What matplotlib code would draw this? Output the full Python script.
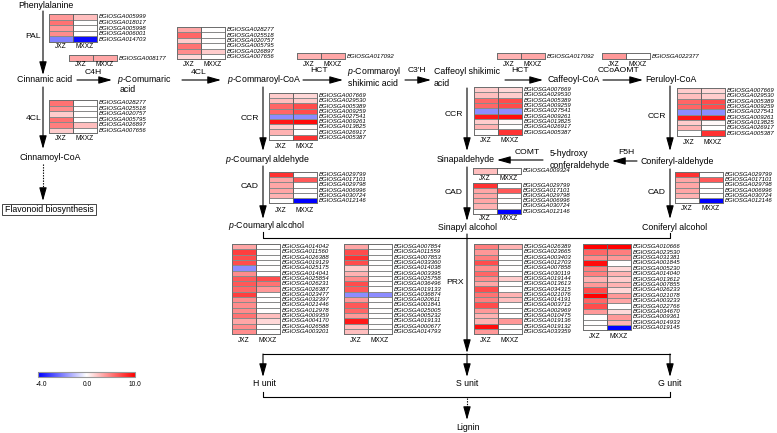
import matplotlib
matplotlib.use('Agg')
import matplotlib.pyplot as plt
import numpy as np
from matplotlib.colors import LinearSegmentedColormap, TwoSlopeNorm
from matplotlib.patches import Rectangle

plt.rcParams['font.family'] = ['Liberation Sans', 'DejaVu Sans']
plt.rcParams['mathtext.fontset'] = 'custom'
plt.rcParams['mathtext.it'] = 'Liberation Sans:italic'
plt.rcParams['mathtext.rm'] = 'Liberation Sans'

# expression values, each row is [JXZ, MXXZ]
pal_genes = ['BGIOSGA005999', 'BGIOSGA018017', 'BGIOSGA005998', 'BGIOSGA006001', 'BGIOSGA014703']
pal_vals = [[4, 2.5], [5.5, 0], [4, 0], [4.5, 0], [-2, -3.8]]

c4h_genes = ['BGIOSGA008177']
c4h_vals = [[3.5, 3.5]]

fourcl_genes = ['BGIOSGA028277', 'BGIOSGA025518', 'BGIOSGA020757', 'BGIOSGA005795', 'BGIOSGA026897', 'BGIOSGA007656']
fourcl_top_vals = [[3.5, 0], [6, 0], [2, 0], [5.5, 0], [4.5, 2], [1.5, 0]]
fourcl_left_vals = [[5.5, 0], [4.5, 0], [2, 0], [5.5, 0], [5, 2.5], [2, 0]]

hct_genes = ['BGIOSGA017092']
hct_vals = [[3, 3.5]]

ccoaomt_genes = ['BGIOSGA022377']
ccoaomt_vals = [[4, 0]]

ccr_genes = ['BGIOSGA007669', 'BGIOSGA029530', 'BGIOSGA005389', 'BGIOSGA009259', 'BGIOSGA027541',
             'BGIOSGA009261', 'BGIOSGA013825', 'BGIOSGA026917', 'BGIOSGA005387']
ccr_vals = [[2, 1.5], [2.5, 2], [6, 7], [6, 7], [-1.8, -1.8], [9, 9.5], [2, 0.3], [3, 0], [0, 8]]

cad_genes = ['BGIOSGA029799', 'BGIOSGA017101', 'BGIOSGA029798', 'BGIOSGA006996', 'BGIOSGA030724', 'BGIOSGA012146']
cad_vals = [[8, 0], [3.5, 6.5], [3.5, 0], [3.5, 0], [3, 0], [0, -4]]

comt_genes = ['BGIOSGA009324']
comt_vals = [[2.5, 0]]

prx1_genes = ['BGIOSGA014042', 'BGIOSGA011560', 'BGIOSGA026388', 'BGIOSGA019129', 'BGIOSGA025175',
              'BGIOSGA014041', 'BGIOSGA025854', 'BGIOSGA026231', 'BGIOSGA026387', 'BGIOSGA023477',
              'BGIOSGA032397', 'BGIOSGA021446', 'BGIOSGA012978', 'BGIOSGA009359', 'BGIOSGA004170',
              'BGIOSGA026588', 'BGIOSGA003201']
prx1_vals = [[3.5, 0], [7.5, 0], [7, 0], [7, 0], [-1.8, 0], [4.5, 0], [6.5, 7], [6.5, 5.5], [6, 4],
             [7.5, 0], [4.5, 0], [4.5, 0], [4.5, 0], [5.5, 2.5], [3.5, 1.5], [4.5, 0], [4.5, 0]]

prx2_genes = ['BGIOSGA007854', 'BGIOSGA011559', 'BGIOSGA007853', 'BGIOSGA033360', 'BGIOSGA014038',
              'BGIOSGA003395', 'BGIOSGA025758', 'BGIOSGA036496', 'BGIOSGA019133', 'BGIOSGA036874',
              'BGIOSGA020611', 'BGIOSGA001841', 'BGIOSGA025005', 'BGIOSGA005232', 'BGIOSGA019131',
              'BGIOSGA000677', 'BGIOSGA014793']
prx2_vals = [[3.5, 0], [7, 0], [8, 0], [7, 0], [2, 0], [3, 0], [4.5, 0], [7, 0], [6.5, 0], [-1.8, -1.8],
             [4, 0], [6.5, 0], [6, 0], [4, 0], [9, 0], [2.5, 0], [2.5, 0]]

prx3_genes = ['BGIOSGA026389', 'BGIOSGA023665', 'BGIOSGA003403', 'BGIOSGA012703', 'BGIOSGA007858',
              'BGIOSGA030119', 'BGIOSGA019144', 'BGIOSGA013613', 'BGIOSGA034315', 'BGIOSGA021076',
              'BGIOSGA014191', 'BGIOSGA003712', 'BGIOSGA002969', 'BGIOSGA010475', 'BGIOSGA019136',
              'BGIOSGA019132', 'BGIOSGA033359']
prx3_vals = [[5, 3], [4, 0], [5, 0], [7, 0], [4.5, 0], [6, 0], [4.5, 2], [3.5, 0], [7, 0], [5.5, 3],
             [5, 2.5], [7, 0], [4, 0], [3, 0], [3, 4], [9.5, 0], [4, 0]]

prx4_genes = ['BGIOSGA010666', 'BGIOSGA023530', 'BGIOSGA031381', 'BGIOSGA001845', 'BGIOSGA005230',
              'BGIOSGA014040', 'BGIOSGA013612', 'BGIOSGA007855', 'BGIOSGA026233', 'BGIOSGA021078',
              'BGIOSGA003233', 'BGIOSGA022766', 'BGIOSGA034670', 'BGIOSGA009361', 'BGIOSGA014933',
              'BGIOSGA019145']
prx4_vals = [[10, 10], [6, 5], [4.5, 4], [9.5, 0], [5, 1.5], [5, 3], [3, 2], [4, 3], [7, 1.5], [10, 4],
             [6, 3.5], [7, 0], [4, 1.5], [0, 4], [0, 3], [0, -4]]

cbar_ticks = [-4.0, 0.0, 10.0]

cmap = LinearSegmentedColormap.from_list('bwr2', ['#0000ff', '#ffffff', '#ff0000'])
norm = TwoSlopeNorm(vmin=-4, vcenter=0, vmax=10)

fig = plt.figure(figsize=(7.77, 4.33), dpi=100)
ax = fig.add_axes([0, 0, 1, 1])
ax.set_xlim(0, 777)
ax.set_ylim(433, 0)
ax.axis('off')

FS = 6.3
EFS = 6.1


def heatmap(x0, y0, vals, genes, rh=5.3, cw=24, lab_y=None):
    vals = np.array(vals, dtype=float)
    n = len(vals)
    xs = x0 + np.arange(3) * cw
    ys = y0 + np.arange(n + 1) * rh
    ax.pcolormesh(xs, ys, vals, cmap=cmap, norm=norm, edgecolors='#8a8a8a', linewidth=0.4)
    ax.plot([x0 + cw, x0 + cw], [y0, y0 + n * rh], color='#555555', lw=0.5)
    ax.add_patch(Rectangle((x0, y0), 2 * cw, n * rh, fill=False, ec='#6a6a6a', lw=0.6))
    for i, g in enumerate(genes):
        ax.text(x0 + 2 * cw + 2, y0 + (i + 0.5) * rh, g, fontsize=4.3, style='italic',
                va='center', ha='left')
    if lab_y is None:
        lab_y = y0 + n * rh + 5.5
    ax.text(x0 + cw / 2, lab_y, 'JXZ', fontsize=4.7, ha='center', va='center')
    ax.text(x0 + 1.5 * cw, lab_y, 'MXXZ', fontsize=4.7, ha='center', va='center')


def arrow(x1, y1, x2, y2):
    ax.annotate('', xy=(x2, y2), xytext=(x1, y1),
                arrowprops=dict(arrowstyle='-|>,head_length=1.0,head_width=0.28', color='k',
                                lw=0.8, mutation_scale=8, shrinkA=0, shrinkB=0))


def line(xs, ys, ls='-'):
    ax.plot(xs, ys, color='k', lw=0.8, linestyle=ls)


def label(x, y, s, ha='center', fs=FS):
    ax.text(x, y, s, fontsize=fs, ha=ha, va='center')


# compounds
label(46, 5, 'Phenylalanine')
label(45, 80, 'Cinnamic acid')
label(117, 80, '$p$-Comumaric', ha='left')
label(120, 90, 'acid', ha='left')
label(227, 80, '$p$-Commaroyl-CoA', ha='left')
label(347, 72, '$p$-Commaroyl', ha='left')
label(348, 83, 'shikimic acid', ha='left')
label(434, 72, 'Caffeoyl shikimic', ha='left')
label(434, 83, 'acid', ha='left')
label(547, 80, 'Caffeoyl-CoA', ha='left')
label(645, 80, 'Feruloyl-CoA', ha='left')
label(50, 157, 'Cinnamoyl-CoA')
label(268, 159, '$p$-Coumaryl aldehyde')
label(267, 226, '$p$-Coumaryl alcohol')
label(466, 160, 'Sinapaldehyde')
label(467, 228, 'Sinapyl alcohol')
label(550, 154, '5-hydroxy', ha='left')
label(550, 165, 'conferaldehyde', ha='left')
label(677, 161, 'Coniferyl-aldehyde')
label(675, 227, 'Coniferyl alcohol')
label(264, 383, 'H unit')
label(467, 383, 'S unit')
label(670, 383, 'G unit')
label(468, 427, 'Lignin')
ax.add_patch(Rectangle((2, 204), 94, 11, fill=False, ec='#444444', lw=0.7))
label(49, 209.5, 'Flavonoid biosynthesis')

# enzymes
label(41, 37, 'PAL', ha='right', fs=EFS)
label(93, 72, 'C4H', fs=EFS)
label(199, 72, '4CL', fs=EFS)
label(41, 118, '4CL', ha='right', fs=EFS)
label(319, 71, 'HCT', fs=EFS)
label(417, 71, "C3'H", fs=EFS)
label(520, 71, 'HCT', fs=EFS)
label(618, 71, 'CCoAOMT', fs=EFS)
label(259, 118, 'CCR', ha='right', fs=EFS)
label(463, 114, 'CCR', ha='right', fs=EFS)
label(666, 117, 'CCR', ha='right', fs=EFS)
label(259, 187, 'CAD', ha='right', fs=EFS)
label(463, 192, 'CAD', ha='right', fs=EFS)
label(666, 193, 'CAD', ha='right', fs=EFS)
label(527, 153, 'COMT', fs=EFS)
label(626, 152, 'F5H', fs=EFS)
label(464, 283, 'PRX', ha='right', fs=EFS)

# arrows
arrow(43, 11, 43, 75)
arrow(77, 80, 112, 80)
arrow(182, 80, 221, 80)
arrow(303, 80, 343, 80)
arrow(405, 80, 431, 80)
arrow(505, 80, 543, 80)
arrow(603, 80, 643, 80)
arrow(43, 87, 43, 149)
line([43, 43], [164, 194], ls=(0, (1.2, 1.2)))
arrow(43, 193, 43, 201)
arrow(263, 87, 263, 151)
arrow(263, 166, 263, 219)
arrow(467, 88, 467, 151)
arrow(467, 167, 467, 221)
arrow(670, 86, 670, 151)
arrow(670, 169, 670, 219)
arrow(543, 160, 497, 160)
arrow(637, 161, 612, 161)

# joining lines to PRX and monolignol units
line([263, 263, 670, 670], [232, 238, 238, 233])
arrow(467, 234, 467, 353)
line([263, 670], [354, 354])
arrow(263, 354, 263, 377)
arrow(467, 354, 467, 377)
arrow(670, 354, 670, 377)
line([263, 263, 670, 670], [392, 397, 397, 392])
line([467, 467], [398, 412], ls=(0, (1.2, 1.2)))
arrow(467, 411, 467, 420)

# heatmaps
heatmap(49, 14, pal_vals, pal_genes, rh=5.6, lab_y=47)
heatmap(69, 55, c4h_vals, c4h_genes, rh=6, lab_y=65)
heatmap(177, 27, fourcl_top_vals, fourcl_genes, rh=5.4, lab_y=64)
heatmap(49, 100, fourcl_left_vals, fourcl_genes, rh=5.5, lab_y=138)
heatmap(297, 53, hct_vals, hct_genes, rh=6, lab_y=64)
heatmap(497, 53, hct_vals, hct_genes, rh=6, lab_y=64)
heatmap(602, 53, ccoaomt_vals, ccoaomt_genes, rh=6, lab_y=64)
heatmap(269, 93, ccr_vals, ccr_genes, rh=5.2, lab_y=146)
heatmap(474, 87, ccr_vals, ccr_genes, rh=5.3, lab_y=141)
heatmap(677, 88, ccr_vals, ccr_genes, rh=5.3, lab_y=143)
heatmap(269, 172, cad_vals, cad_genes, rh=5.2, lab_y=210)
heatmap(473, 168, comt_vals, comt_genes, rh=6, lab_y=178)
heatmap(473, 182.5, cad_vals, cad_genes, rh=5.2, lab_y=219)
heatmap(675, 172, cad_vals, cad_genes, rh=5.2, lab_y=209)
heatmap(232, 244, prx1_vals, prx1_genes, rh=5.3, lab_y=340)
heatmap(344, 244, prx2_vals, prx2_genes, rh=5.3, lab_y=340)
heatmap(474, 244, prx3_vals, prx3_genes, rh=5.3, lab_y=340)
heatmap(583, 244, prx4_vals, prx4_genes, rh=5.4, lab_y=337)

# colour key
grad = np.concatenate([np.linspace(cbar_ticks[0], 0, 128), np.linspace(0, cbar_ticks[2], 128)])
ax.imshow(grad[None, :], extent=(38, 135, 377, 372), cmap=cmap, norm=norm, aspect='auto',
          interpolation='bilinear')
ax.add_patch(Rectangle((38, 372), 97, 5, fill=False, ec='#999999', lw=0.8))
for t, x in zip(cbar_ticks, [41, 87, 135]):
    ax.text(x, 384, '%.1f' % t, fontsize=4.8, ha='center', va='center')

ax.set_xlim(0, 777)
ax.set_ylim(433, 0)
fig.savefig('out.png', dpi=100)
